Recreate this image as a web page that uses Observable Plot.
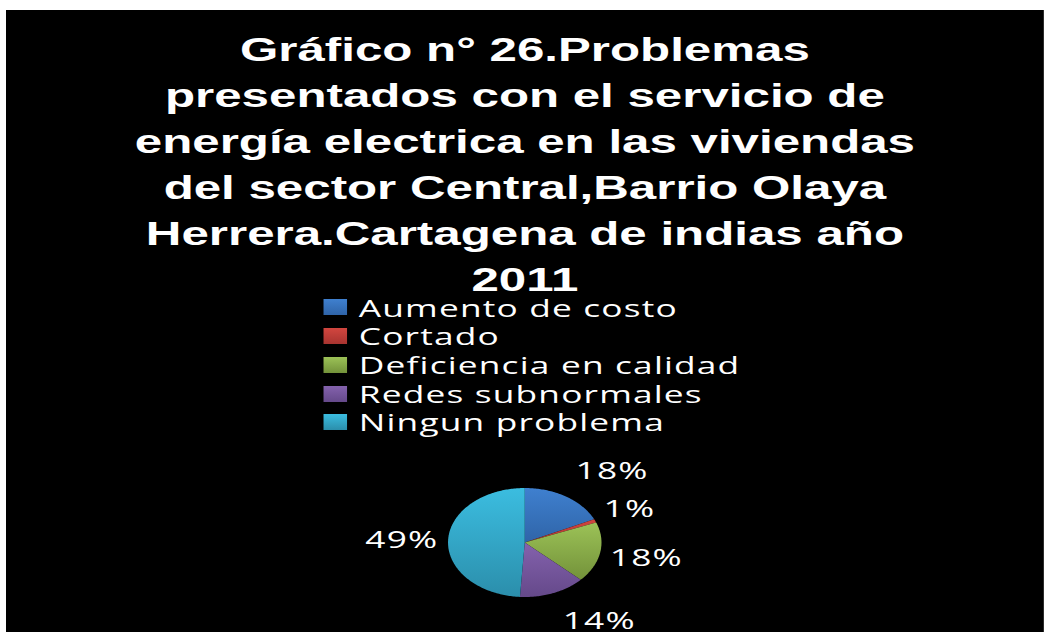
<!DOCTYPE html>
<html><head><meta charset="utf-8">
<script src="https://cdn.jsdelivr.net/npm/d3@7"></script>
<script src="https://cdn.jsdelivr.net/npm/@observablehq/plot@0.6"></script>
<style>
html,body{margin:0;padding:0;background:#fff;overflow:hidden;width:1044px;height:632px;}
#fig{position:absolute;left:6px;top:10px;width:706px;height:622px;background:#000;transform:scaleX(1.47);transform-origin:0 0;overflow:hidden;}
#title{position:absolute;left:0;top:17.4px;width:706px;text-align:center;color:#fff;font-family:"Liberation Sans",Arial,sans-serif;font-weight:bold;font-size:33.5px;line-height:46px;margin:0;}
#legend{position:absolute;left:215.6px;top:283.6px;}
#pie{position:absolute;left:0;top:420px;}
.lg-swatch{line-height:27.7px;}
.lg-swatch > svg{margin-right:8.4px;}
.lg-swatch-label{overflow:visible !important;}
</style></head><body>
<svg width="0" height="0" style="position:absolute"><defs id="grads"></defs></svg>
<div id="fig"><div id="title"></div><div id="legend"></div><div id="pie"></div></div>
<script>
// ---- data ----
const titleLines = [
  "Gráfico n° 26.Problemas",
  "presentados con el servicio de",
  "energía electrica en las viviendas",
  "del sector Central,Barrio Olaya",
  "Herrera.Cartagena de indias año",
  "2011"
];
const categories = ["Aumento de costo", "Cortado", "Deficiencia en calidad", "Redes subnormales", "Ningun problema"];
const values = [18, 1, 18, 14, 49];
const labels = ["18%", "1%", "18%", "14%", "49%"];
// ---- styles ----
const topColors = ["#3f80cf", "#d2463f", "#9cc257", "#8462ad", "#3bbde0"];
const bottomColors = ["#2f64a8", "#a83430", "#73923a", "#65498a", "#2b8eab"];

// gradients
const defs = d3.select("#grads");
const fills = categories.map((c, i) => {
  const g = defs.append("linearGradient").attr("id", "g" + i).attr("x1", 0).attr("y1", 0).attr("x2", 0).attr("y2", 1);
  g.append("stop").attr("offset", "0%").attr("stop-color", topColors[i]);
  g.append("stop").attr("offset", "100%").attr("stop-color", bottomColors[i]);
  return `url(#g${i})`;
});

document.getElementById("title").innerHTML = titleLines.join("<br>");

// legend
const legend = Plot.legend({
  color: {type: "ordinal", domain: categories, range: fills},
  legend: "swatches",
  columns: 1,
  swatchSize: 16,
  className: "lg",
  style: {fontFamily: "'Open Sans'", fontSize: "24px", color: "white", letterSpacing: "0.8px", background: "transparent", margin: 0}
});
document.getElementById("legend").append(legend);

// pie geometry
const arcs = d3.pie().sort(null).startAngle(0).endAngle(2 * Math.PI)(values);
const pieData = [];
arcs.forEach((a, i) => {
  const n = Math.max(2, Math.ceil((a.endAngle - a.startAngle) / (Math.PI / 180)));
  pieData.push({cat: categories[i], x: 0, y: 0});
  for (let k = 0; k <= n; k++) {
    const t = a.startAngle + (a.endAngle - a.startAngle) * k / n;
    pieData.push({cat: categories[i], x: Math.sin(t), y: Math.cos(t)});
  }
});
const RX = 52.2, RY = 54.5, CX = 352.4, CY = 112;
// outside-end labels: edge point plus an offset that clears the text box
const labelData = arcs.map((a, i) => {
  const m = (a.startAngle + a.endAngle) / 2;
  const s = Math.sin(m), c = Math.cos(m);
  const hw = labels[i].length * 16.3 / 2;
  const px = s * RX + Math.sign(s) * Math.min(1, Math.abs(s) * 3) * (hw + 7);
  const py = c * RY + c * 30;
  return {label: labels[i], x: px / RX, y: py / RY};
});

const plot = Plot.plot({
  width: 706,
  height: 202,
  margin: 0,
  x: {domain: [-1, 1], range: [CX - RX, CX + RX], axis: null},
  y: {domain: [-1, 1], range: [CY + RY, CY - RY], axis: null},
  color: {domain: categories, range: fills},
  style: {background: "transparent", fontFamily: "'Open Sans'", letterSpacing: "0.8px", overflow: "visible"},
  marks: [
    Plot.line(pieData, {x: "x", y: "y", z: "cat", fill: "cat", stroke: "none", curve: "linear-closed"}),
    Plot.text(labelData, {x: "x", y: "y", text: "label", fill: "white", fontSize: 24, fontFamily: "Open Sans"})
  ]
});
document.getElementById("pie").append(plot);
</script></body></html>
